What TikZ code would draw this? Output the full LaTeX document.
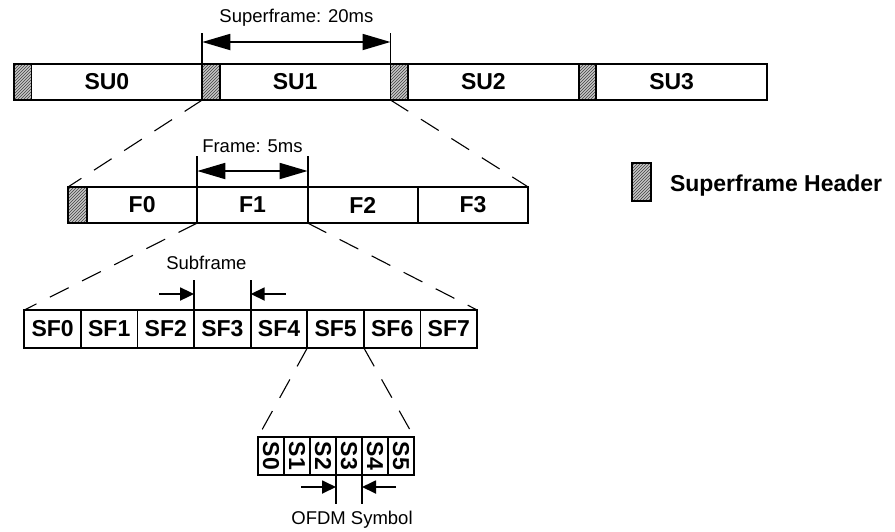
\documentclass[tikz,border=0pt]{standalone}
\usepackage{fontspec}
\setmainfont{Liberation Sans}
\usepackage{graphicx}
\usetikzlibrary{positioning,patterns,arrows.meta}

\begin{document}
\begin{tikzpicture}[x=1pt,y=-1pt,
        box/.style={draw,line width=1.8pt,minimum height=36pt,inner sep=0pt,outer sep=0pt,
            font=\bfseries\fontsize{23}{27}\selectfont},
        hdr/.style={box,minimum width=17.5pt,preaction={fill=gray!45},
            pattern=north east lines,pattern color=black!75},
        zoomline/.style={line width=1.1pt,dash pattern=on 21pt off 15pt},
        tick/.style={line width=1.8pt},
        dimarrow/.style={line width=1.8pt,{Triangle[length=28pt,width=16pt]}-{Triangle[length=28pt,width=16pt]}},
        ptr/.style={line width=1.8pt,-{Triangle[length=14pt,width=13pt]}},
        lbl/.style={font=\fontsize{18.5}{22}\selectfont,inner sep=0pt}]
            \useasboundingbox (0,0) rectangle (895,531);
            \def\suw{170.75pt}
            \def\fw{110.3pt}

            % superframe row
            \foreach \i in {0,...,3} {
                \node[hdr,anchor=west] (h\i) at ({14+\i*188.25},82) {};
                \node[box,minimum width=\suw,right=0pt of h\i] (su\i) {\hspace*{-20pt}SU\i};
            }

            % frame row
            \node[hdr,minimum width=19pt,anchor=west] (fh) at (68,205) {};
            \node[box,minimum width=\fw,right=0pt of fh] (f0) {F0};
            \foreach \i [count=\j from 0] in {1,2,3}
                \node[box,minimum width=\fw,right=0pt of f\j] (f\i) {F\i};

            % subframe row
            \foreach \i in {0,...,7}
                \node[box,minimum width=56.6pt,minimum height=38pt,anchor=west] (sf\i) at ({24.3+\i*56.6},329) {SF\i};

            % symbol row
            \foreach \i in {0,...,5}
                \node[box,minimum width=26pt,minimum height=38pt,anchor=west] (s\i) at ({258+\i*26},456) {\rotatebox{-90}{S\i}};

            % zoom lines
            \draw[zoomline] (h1.south west) -- (fh.north west);
            \draw[zoomline] (su1.south east) -- (f3.north east);
            \draw[zoomline] (f1.south west) -- (sf0.north west);
            \draw[zoomline] (f1.south east) -- (sf7.north east);
            \draw[zoomline] (sf5.south west) -- (s0.north west);
            \draw[zoomline] (sf5.south east) -- (s5.north east);

            % superframe length
            \coordinate[above=31pt of h1.north west] (supL);
            \coordinate[above=31pt of su1.north east] (supR);
            \coordinate[below=9pt of supL] (supA);
            \coordinate[below=9pt of supR] (supB);
            \draw[tick] (h1.north west) -- (supL);
            \draw[tick] (su1.north east) -- (supR);
            \draw[dimarrow] (supA) -- (supB);
            \path (supL) -- node[lbl,anchor=base,yshift=11pt] (suplbl) {Superframe: 20ms} (supR);

            % frame length
            \coordinate[above=31pt of f1.north west] (frL);
            \coordinate[above=31pt of f1.north east] (frR);
            \coordinate[below=15pt of frL] (frA);
            \coordinate[below=15pt of frR] (frB);
            \draw[tick] (f1.north west) -- (frL);
            \draw[tick] (f1.north east) -- (frR);
            \draw[dimarrow] (frA) -- (frB);
            \path (frL) -- node[lbl,anchor=base,yshift=4pt] (frlbl) {Frame: 5ms} (frR);

            % subframe length
            \coordinate[above=30pt of sf3.north west] (subL);
            \coordinate[above=30pt of sf3.north east] (subR);
            \coordinate[below=14pt of subL] (subA);
            \coordinate[below=14pt of subR] (subB);
            \coordinate[left=35pt of subA] (subAo);
            \coordinate[right=35pt of subB] (subBo);
            \draw[tick] (sf3.north west) -- (subL);
            \draw[tick] (sf3.north east) -- (subR);
            \draw[ptr] (subAo) -- (subA);
            \draw[ptr] (subBo) -- (subB);
            \path (subL) -- node[lbl,anchor=base,yshift=11pt,xshift=-16pt] (sublbl) {Subframe} (subR);

            % symbol length
            \coordinate[below=29pt of s3.south west] (symL);
            \coordinate[below=29pt of s3.south east] (symR);
            \coordinate[above=17pt of symL] (symA);
            \coordinate[above=17pt of symR] (symB);
            \coordinate[left=35pt of symA] (symAo);
            \coordinate[right=34pt of symB] (symBo);
            \draw[tick] (s3.south west) -- (symL);
            \draw[tick] (s3.south east) -- (symR);
            \draw[ptr] (symAo) -- (symA);
            \draw[ptr] (symBo) -- (symB);
            \path (symL) -- node[lbl,anchor=base,yshift=-20pt,xshift=3pt] (symlbl) {OFDM Symbol} (symR);

            % legend
            \node[hdr,minimum width=19pt,minimum height=38pt] (leg) at (641.5,182) {};
            \node[box,draw=none,anchor=base west] (legtxt) at (670,191) {Superframe Header};
        \end{tikzpicture}
\end{document}
